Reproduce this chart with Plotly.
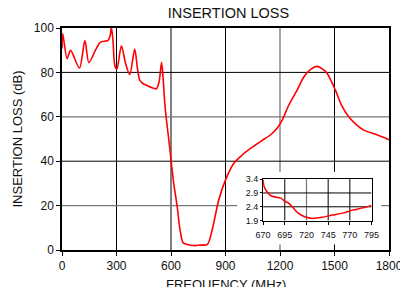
import plotly.graph_objects as go

# main curve
freq = [0, 4, 28, 47, 96, 126, 148, 184, 212, 254, 266, 272, 280, 291, 302, 327, 350, 373, 400, 415, 428, 445,
        470, 500, 520, 535, 548, 556, 565, 573, 588, 601, 615, 634, 650, 667, 690, 722, 762, 800, 827, 845,
        863, 900, 946, 992, 1030, 1065, 1100, 1147, 1184, 1212, 1248, 1294, 1331, 1370, 1404, 1435, 1460, 1505,
        1540, 1578, 1620, 1661, 1730, 1800]
loss = [90.7, 97.4, 86.2, 89.9, 82, 94.4, 84.4, 90, 93.6, 94.4, 97, 100.3, 95, 83, 81.5, 92, 84, 79, 90.5, 82, 76.5, 75,
        74, 73, 72.6, 76, 84.5, 78, 67, 60, 49.6, 40, 30, 19.6, 9, 3.2, 2.5, 2.0, 2.2, 2.5, 9.2, 16,
        22.6, 31.6, 39.1, 42.8, 45.3, 47.3, 49.3, 51.8, 54.8, 58.5, 65.2, 72, 77.9, 81.5, 82.7, 81.5, 79.5, 72,
        65, 60, 56.5, 54, 52, 49.7]

# inset curve
in_freq = [670, 671, 674, 680, 690, 695, 699, 703, 710, 718, 727, 738, 750, 763, 773, 785, 795]
in_loss = [3.38, 3.14, 2.96, 2.78, 2.72, 2.60, 2.54, 2.42, 2.18, 2.04, 1.98, 2.02, 2.10, 2.18, 2.28, 2.36, 2.45]

x_ticks = [0, 300, 600, 900, 1200, 1500, 1800]
y_ticks = [0, 20, 40, 60, 80, 100]
x_gray = [1200]
y_gray = [20, 60]
in_x_ticks = [670, 695, 720, 745, 770, 795]
in_y_ticks = [1.9, 2.4, 2.9, 3.4]
in_x_gray = [720]

FONT = "Liberation Sans, Arial, sans-serif"

fig = go.Figure()
fig.add_trace(go.Scatter(x=freq, y=loss, mode="lines", line=dict(color="#ff0000", width=1.6, shape="spline", smoothing=0.8),
                         xaxis="x", yaxis="y", showlegend=False))
# blank background subplot for the inset (white box)
fig.add_trace(go.Scatter(x=[None], y=[None], mode="lines", xaxis="x2", yaxis="y2", showlegend=False))
fig.add_trace(go.Scatter(x=in_freq, y=in_loss, mode="lines", line=dict(color="#ff0000", width=1.5, shape="spline", smoothing=0.6),
                         xaxis="x3", yaxis="y3", showlegend=False))

shapes = []
for v in x_ticks[1:-1]:
    shapes.append(dict(type="line", xref="x", yref="y", x0=v, x1=v, y0=0, y1=100, layer="below",
                       line=dict(color="#777777" if v in x_gray else "#000000", width=1.3 if v in x_gray else 1)))
for v in y_ticks[1:-1]:
    shapes.append(dict(type="line", xref="x", yref="y", x0=0, x1=1800, y0=v, y1=v, layer="below",
                       line=dict(color="#777777" if v in y_gray else "#000000", width=1.3 if v in y_gray else 1)))
for v in in_x_ticks[1:-1]:
    shapes.append(dict(type="line", xref="x3", yref="y3", x0=v, x1=v, y0=1.9, y1=3.4, layer="below",
                       line=dict(color="#777777" if v in in_x_gray else "#000000", width=1.2 if v in in_x_gray else 1)))
for v in in_y_ticks[1:-1]:
    shapes.append(dict(type="line", xref="x3", yref="y3", x0=670, x1=795, y0=v, y1=v, layer="below",
                       line=dict(color="#000000", width=1)))

axis_common = dict(showgrid=False, zeroline=False, showline=True, mirror=True, linecolor="#000000",
                   ticks="outside", tickcolor="#000000", tickwidth=1, ticklabeloverflow="allow")

fig.update_layout(
    width=400, height=287,
    margin=dict(l=62, r=11, t=28, b=37, autoexpand=False),
    paper_bgcolor="white", plot_bgcolor="white",
    font=dict(family=FONT, color="#111111"),
    title=dict(text="INSERTION LOSS", x=0.509, xref="paper", xanchor="center", y=1 - 13 / 287, yref="container",
               yanchor="middle", font=dict(size=14.5, family=FONT, color="#111111")),
    xaxis=dict(range=[0, 1800], tickvals=x_ticks, ticktext=[str(v) for v in x_ticks], ticklen=4,
               linewidth=1.5, tickfont=dict(size=12), domain=[0, 1], anchor="y",
               automargin=False, **axis_common),
    yaxis=dict(range=[0, 100], tickvals=y_ticks, ticklen=4, linewidth=1.5, tickfont=dict(size=12),
               domain=[0, 1], anchor="x",
               title=dict(text="INSERTION LOSS (dB)", font=dict(size=13), standoff=8), automargin=False, **axis_common),
    xaxis2=dict(domain=[0.536, 0.976], anchor="y2", visible=False, range=[0, 1], fixedrange=True),
    yaxis2=dict(domain=[0.025, 0.352], anchor="x2", visible=False, range=[0, 1], fixedrange=True),
    xaxis3=dict(domain=[0.615, 0.9466], anchor="y3", range=[670, 795], tickvals=in_x_ticks, ticklen=3,
                ticklabelstandoff=2,
                linewidth=1.2, tickfont=dict(size=9), automargin=False, **axis_common),
    yaxis3=dict(domain=[0.1323, 0.3193], anchor="x3", range=[1.9, 3.4], tickvals=in_y_ticks,
                ticktext=["1.9", "2.4", "2.9", "3.4"], ticklen=2,
                linewidth=1.2, tickfont=dict(size=9), automargin=False, **axis_common),
    shapes=shapes,
    annotations=[dict(text="FREQUENCY (MHz)", xref="paper", yref="paper", x=0.5, y=-0.155,
                      xanchor="center", yanchor="middle", showarrow=False, font=dict(size=13, color="#111111"))],
)

fig.write_html("out.html", config={"displayModeBar": False},
               post_script="document.body.style.margin='0';document.body.style.padding='0';document.body.style.overflow='hidden';")
